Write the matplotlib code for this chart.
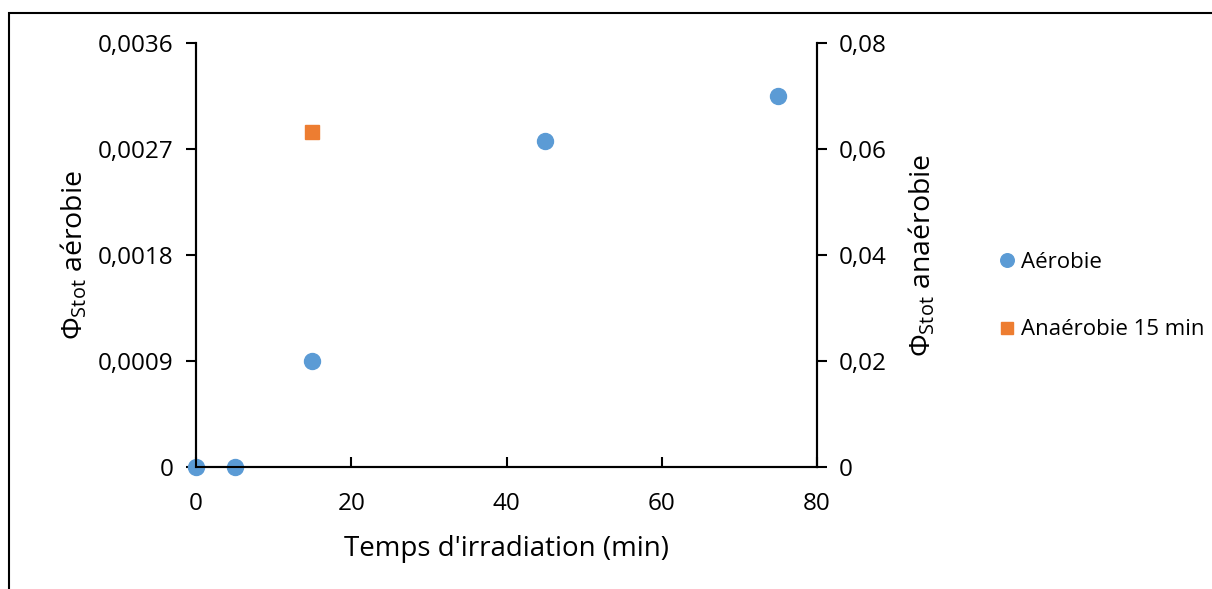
import matplotlib
matplotlib.use("Agg")
import matplotlib.pyplot as plt
from matplotlib.patches import Rectangle
from matplotlib.ticker import FuncFormatter

plt.rcParams['font.family'] = ['Open Sans', 'DejaVu Sans']
plt.rcParams['mathtext.fontset'] = 'custom'
plt.rcParams['mathtext.rm'] = 'Open Sans'
plt.rcParams['mathtext.it'] = 'Open Sans'

# Data
aero_x = [0, 5, 15, 45, 75]
aero_y = [0, 0, 0.0009, 0.00277, 0.00315]
anaero_x = [15]
anaero_y = [0.0632]
left_ticks = [0, 0.0009, 0.0018, 0.0027, 0.0036]
right_ticks = [0, 0.02, 0.04, 0.06, 0.08]
x_ticks = [0, 20, 40, 60, 80]

W, H = 1212, 589
fig = plt.figure(figsize=(W/100, H/100), dpi=100)
ax = fig.add_axes([196/W, 1-467/H, (817-196)/W, (467-43)/H])
ax2 = ax.twinx()

blue = '#5B9BD5'
orange = '#ED7D31'

def comma(v, pos):
    if v == 0:
        return '0'
    s = ('%.4f' % v).rstrip('0')
    return s.replace('.', ',')

def comma2(v, pos):
    if v == 0:
        return '0'
    return ('%.2f' % v).replace('.', ',')

l1, = ax.plot(aero_x, aero_y, 'o', color=blue, markersize=11.5, label='Aérobie',
              clip_on=False, zorder=5)
l2, = ax2.plot(anaero_x, anaero_y, 's', color=orange, markersize=10.5,
               label='Anaérobie 15 min', clip_on=False, zorder=5)

ax.set_xlim(0, 80)
ax.set_ylim(0, 0.0036)
ax2.set_ylim(0, 0.08)
ax.set_xticks(x_ticks)
ax.set_yticks(left_ticks)
ax2.set_yticks(right_ticks)
ax.yaxis.set_major_formatter(FuncFormatter(comma))
ax2.yaxis.set_major_formatter(FuncFormatter(comma2))

for a in (ax, ax2):
    a.spines['top'].set_visible(False)
    for s in ('left', 'right', 'bottom'):
        a.spines[s].set_linewidth(1.5)
        a.spines[s].set_color('black')
    a.patch.set_visible(False)

ax.tick_params(axis='y', direction='out', length=7, width=1.5, labelsize=17.5, pad=9)
ax2.tick_params(axis='y', direction='out', length=7, width=1.5, labelsize=17.5, pad=9)
ax.tick_params(axis='x', direction='in', length=7, width=1.5, labelsize=17.5, pad=18)

ax.set_xlabel("Temps d'irradiation (min)", fontsize=20, labelpad=14)
ax.set_ylabel(r"$\Phi_{\mathrm{Stot}}$ aérobie", fontsize=20.5, labelpad=6)
ax2.set_ylabel(r"$\Phi_{\mathrm{Stot}}$ anaérobie", fontsize=20.5, labelpad=14)

fig.legend(handles=[l1, l2], loc='center left', bbox_to_anchor=(974/W, 1-296/H),
           frameon=False, fontsize=16, labelspacing=2.1, handletextpad=0.0,
           handlelength=1.2, markerscale=0.85)

fig.patches.append(Rectangle((9/W, -0.1), 1.2, 1 - 13/H + 0.1, transform=fig.transFigure,
                             fill=False, edgecolor='black', linewidth=1.5, figure=fig))

fig.savefig('out.png', dpi=100)
